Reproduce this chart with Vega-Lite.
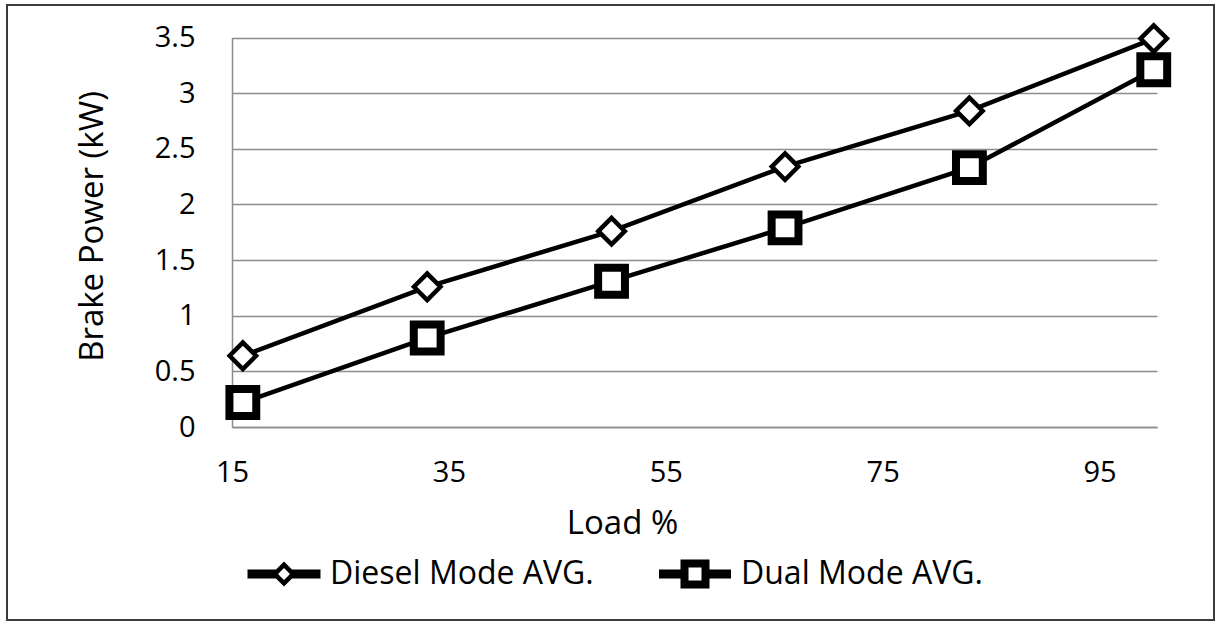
{
  "$schema": "https://vega.github.io/schema/vega-lite/v6.json",
  "width": 1207,
  "height": 615,
  "autosize": "none",
  "padding": {"left": 7, "top": 5, "right": 3, "bottom": 3},
  "background": "white",
  "config": {
    "view": {"stroke": "#3c3c3c", "strokeWidth": 2},
    "axis": {
      "domainColor": "#8c8c8c",
      "domainWidth": 1.5,
      "gridColor": "#8c8c8c",
      "gridWidth": 1.5,
      "ticks": false,
      "labelFont": "Open Sans",
      "labelFontSize": 29,
      "labelColor": "#000000",
      "titleFont": "Open Sans",
      "titleFontSize": 33,
      "titleFontWeight": "normal",
      "titleColor": "#000000"
    },
    "legend": {
      "labelFont": "Open Sans",
      "labelFontSize": 32,
      "labelColor": "#000000",
      "labelLimit": 0
    }
  },
  "data": {
    "values": [
      {"load": 16, "power": 0.64, "series": "Diesel Mode AVG."},
      {"load": 33, "power": 1.26, "series": "Diesel Mode AVG."},
      {"load": 50, "power": 1.76, "series": "Diesel Mode AVG."},
      {"load": 66, "power": 2.34, "series": "Diesel Mode AVG."},
      {"load": 83, "power": 2.84, "series": "Diesel Mode AVG."},
      {"load": 100, "power": 3.49, "series": "Diesel Mode AVG."},
      {"load": 16, "power": 0.22, "series": "Dual Mode AVG."},
      {"load": 33, "power": 0.80, "series": "Dual Mode AVG."},
      {"load": 50, "power": 1.31, "series": "Dual Mode AVG."},
      {"load": 66, "power": 1.79, "series": "Dual Mode AVG."},
      {"load": 83, "power": 2.33, "series": "Dual Mode AVG."},
      {"load": 100, "power": 3.21, "series": "Dual Mode AVG."}
    ]
  },
  "encoding": {
    "x": {
      "field": "load",
      "type": "quantitative",
      "scale": {"domain": [15, 100.3], "range": [225, 1150], "nice": false, "zero": false},
      "axis": {
        "title": "Load %",
        "grid": false,
        "values": [15, 35, 55, 75, 95],
        "offset": -193,
        "labelPadding": 31,
        "labelFlush": false,
        "labelOverlap": false,
        "titleX": 615,
        "titleY": 106,
        "titleAlign": "center",
        "titleBaseline": "alphabetic"
      }
    },
    "y": {
      "field": "power",
      "type": "quantitative",
      "scale": {"domain": [0, 3.5], "range": [422, 32.5], "nice": false, "zero": true},
      "axis": {
        "title": "Brake  Power (kW)",
        "grid": true,
        "values": [0, 0.5, 1, 1.5, 2, 2.5, 3, 3.5],
        "format": "~g",
        "offset": -225,
        "labelPadding": 37,
        "labelFlush": false,
        "labelOverlap": false,
        "titleAngle": -90,
        "titleX": -130,
        "titleY": 221,
        "titleAlign": "center",
        "titleBaseline": "alphabetic"
      }
    }
  },
  "layer": [
    {
      "mark": {"type": "line", "color": "#000000", "strokeWidth": 4.5},
      "encoding": {"detail": {"field": "series"}}
    },
    {
      "transform": [{"filter": "datum.series === 'Diesel Mode AVG.'"}],
      "mark": {"type": "point", "shape": "diamond", "filled": true, "fill": "#ffffff", "stroke": "#000000", "opacity": 1, "size": 700, "strokeWidth": 4.5}
    },
    {
      "transform": [{"filter": "datum.series === 'Dual Mode AVG.'"}],
      "mark": {"type": "point", "shape": "square", "filled": true, "fill": "#ffffff", "stroke": "#000000", "opacity": 1, "size": 720, "strokeWidth": 8}
    },
    {
      "description": "Legend key: a line stub through each series marker, drawn as one filled outline path per series",
      "transform": [{"filter": "false"}],
      "mark": {"type": "point", "filled": true, "color": "#000000", "opacity": 1},
      "encoding": {
        "shape": {
          "field": "series",
          "type": "nominal",
          "scale": {
            "domain": ["Diesel Mode AVG.", "Dual Mode AVG."],
            "range": [
              "M-1.25,0L0,-1.25L1.25,0L0,1.25ZM-0.6,0L0,0.6L0.6,0L0,-0.6ZM-3.65,-0.45L-0.7,-0.45L-0.7,0.45L-3.65,0.45ZM0.7,-0.45L3.65,-0.45L3.65,0.45L0.7,0.45Z",
              "M-1.45,-1.45L1.45,-1.45L1.45,1.45L-1.45,1.45ZM-0.65,-0.65L-0.65,0.65L0.65,0.65L0.65,-0.65ZM-3.6,-0.45L-1.2,-0.45L-1.2,0.45L-3.6,0.45ZM1.2,-0.45L3.6,-0.45L3.6,0.45L1.2,0.45Z"
            ]
          },
          "legend": {
            "title": null,
            "orient": "none",
            "direction": "horizontal",
            "legendX": 261,
            "legendY": 553,
            "symbolSize": 400,
            "symbolFillColor": "#000000",
            "symbolStrokeWidth": 0,
            "labelOffset": 30,
            "columnPadding": 65
          }
        }
      }
    }
  ]
}
